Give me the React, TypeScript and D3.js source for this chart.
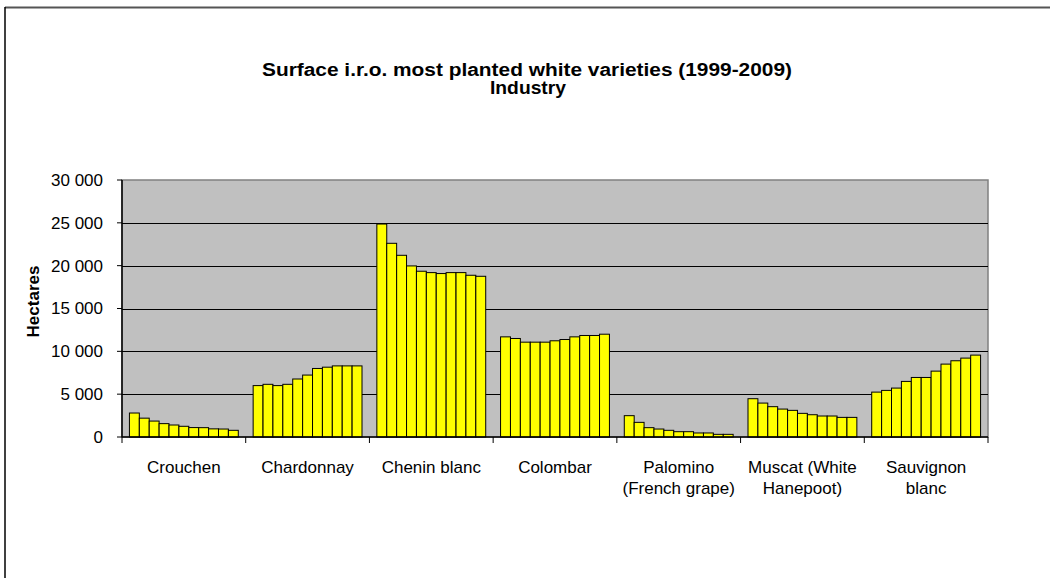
import React from "react";
import * as d3 from "d3";

const categories: string[][] = [
  ["Crouchen"],
  ["Chardonnay"],
  ["Chenin blanc"],
  ["Colombar"],
  ["Palomino", "(French grape)"],
  ["Muscat (White", "Hanepoot)"],
  ["Sauvignon", "blanc"],
];
const years = ["1999", "2000", "2001", "2002", "2003", "2004", "2005", "2006", "2007", "2008", "2009"];

const crouchen = [2800, 2200, 1860, 1560, 1400, 1250, 1100, 1090, 950, 930, 780];
const chardonnay = [6000, 6150, 6000, 6150, 6770, 7230, 8000, 8150, 8300, 8300, 8300];
const cheninBlanc = [24860, 22610, 21210, 19970, 19350, 19190, 19080, 19190, 19190, 18880, 18760];
const colombar = [11690, 11500, 11070, 11070, 11070, 11230, 11380, 11690, 11850, 11850, 12000];
const palomino = [2490, 1710, 1090, 930, 780, 620, 620, 470, 470, 310, 310];
const muscat = [4470, 3960, 3540, 3260, 3110, 2760, 2600, 2450, 2450, 2290, 2290];
const sauvignonBlanc = [5240, 5440, 5710, 6490, 6950, 6950, 7690, 8510, 8900, 9210, 9560];

const seriesByCategory = [crouchen, chardonnay, cheninBlanc, colombar, palomino, muscat, sauvignonBlanc];
const yTicks = [0, 5000, 10000, 15000, 20000, 25000, 30000];

const title1 = "Surface i.r.o. most planted white varieties (1999-2009)";
const title2 = "Industry";
const yTitle = "Hectares";

export default function App() {
  const W = 1050, H = 578;
  const left = 122, right = 988, top = 180, bottom = 437;
  const font = "Liberation Sans, Arial, sans-serif";
  const fs = 17;

  const x0 = d3.scaleBand<number>().domain(d3.range(categories.length)).range([left, right]).padding(0);
  const x1 = d3.scaleBand<string>().domain(years).range([0, x0.bandwidth()]).paddingInner(0).paddingOuter(0.75);
  const y = d3.scaleLinear().domain([0, 30000]).range([bottom, top]);
  const fmt = (v: number) => d3.format(",")(v).replace(/,/g, " ");

  return (
    <svg width={W} height={H} style={{ position: "absolute", left: 0, top: 0, background: "#fff" }} fontFamily={font}>
      <rect x={0} y={0} width={W} height={H} fill="#fff" />
      {/* frame */}
      <line x1={5} y1={7.5} x2={W + 10} y2={7.5} stroke="#555" strokeWidth={2} />
      <line x1={5} y1={7} x2={5} y2={H + 10} stroke="#000" strokeWidth={1.5} />

      {/* title */}
      <text x={527} y={76} textAnchor="middle" fontWeight="bold" fontSize={18} textLength={530} lengthAdjust="spacingAndGlyphs">{title1}</text>
      <text x={528} y={94} textAnchor="middle" fontWeight="bold" fontSize={18} textLength={76} lengthAdjust="spacingAndGlyphs">{title2}</text>

      {/* plot area */}
      <rect x={left} y={top} width={right - left} height={bottom - top} fill="#C0C0C0" stroke="#808080" strokeWidth={1.5} />
      {yTicks.filter((t) => t > 0 && t < 30000).map((t) => (
        <line key={t} x1={left} x2={right} y1={Math.round(y(t)) + 0.5} y2={Math.round(y(t)) + 0.5} stroke="#000" strokeWidth={1} />
      ))}

      {/* bars */}
      {seriesByCategory.map((vals, ci) => (
        <g key={ci} transform={`translate(${x0(ci)},0)`}>
          {vals.map((v, yi) => (
            <rect
              key={yi}
              x={x1(years[yi])!}
              y={y(v)}
              width={x1.bandwidth()}
              height={bottom - y(v)}
              fill="#FFFF00"
              stroke="#000"
              strokeWidth={1}
            />
          ))}
        </g>
      ))}

      {/* y axis */}
      <line x1={left} x2={left} y1={top} y2={bottom} stroke="#000" strokeWidth={1.5} />
      {yTicks.map((t) => (
        <g key={t}>
          <line x1={left - 5} x2={left} y1={y(t)} y2={y(t)} stroke="#000" strokeWidth={1} />
          <text x={103} y={y(t)} dy="0.35em" textAnchor="end" fontSize={fs}>{fmt(t)}</text>
        </g>
      ))}
      <text transform={`translate(39,${(top + bottom) / 2 - 7}) rotate(-90)`} textAnchor="middle" fontWeight="bold" fontSize={fs}>{yTitle}</text>

      {/* x axis */}
      <line x1={left} x2={right} y1={bottom} y2={bottom} stroke="#000" strokeWidth={1.5} />
      {d3.range(categories.length + 1).map((i) => {
        const xx = left + i * x0.bandwidth();
        return <line key={i} x1={xx} x2={xx} y1={bottom} y2={bottom + 6} stroke="#000" strokeWidth={1} />;
      })}
      {categories.map((lines, ci) => (
        <text key={ci} x={x0(ci)! + x0.bandwidth() / 2} y={473} textAnchor="middle" fontSize={fs}>
          {lines.map((l, li) => (
            <tspan key={li} x={x0(ci)! + x0.bandwidth() / 2} dy={li === 0 ? 0 : 21}>{l}</tspan>
          ))}
        </text>
      ))}
    </svg>
  );
}
